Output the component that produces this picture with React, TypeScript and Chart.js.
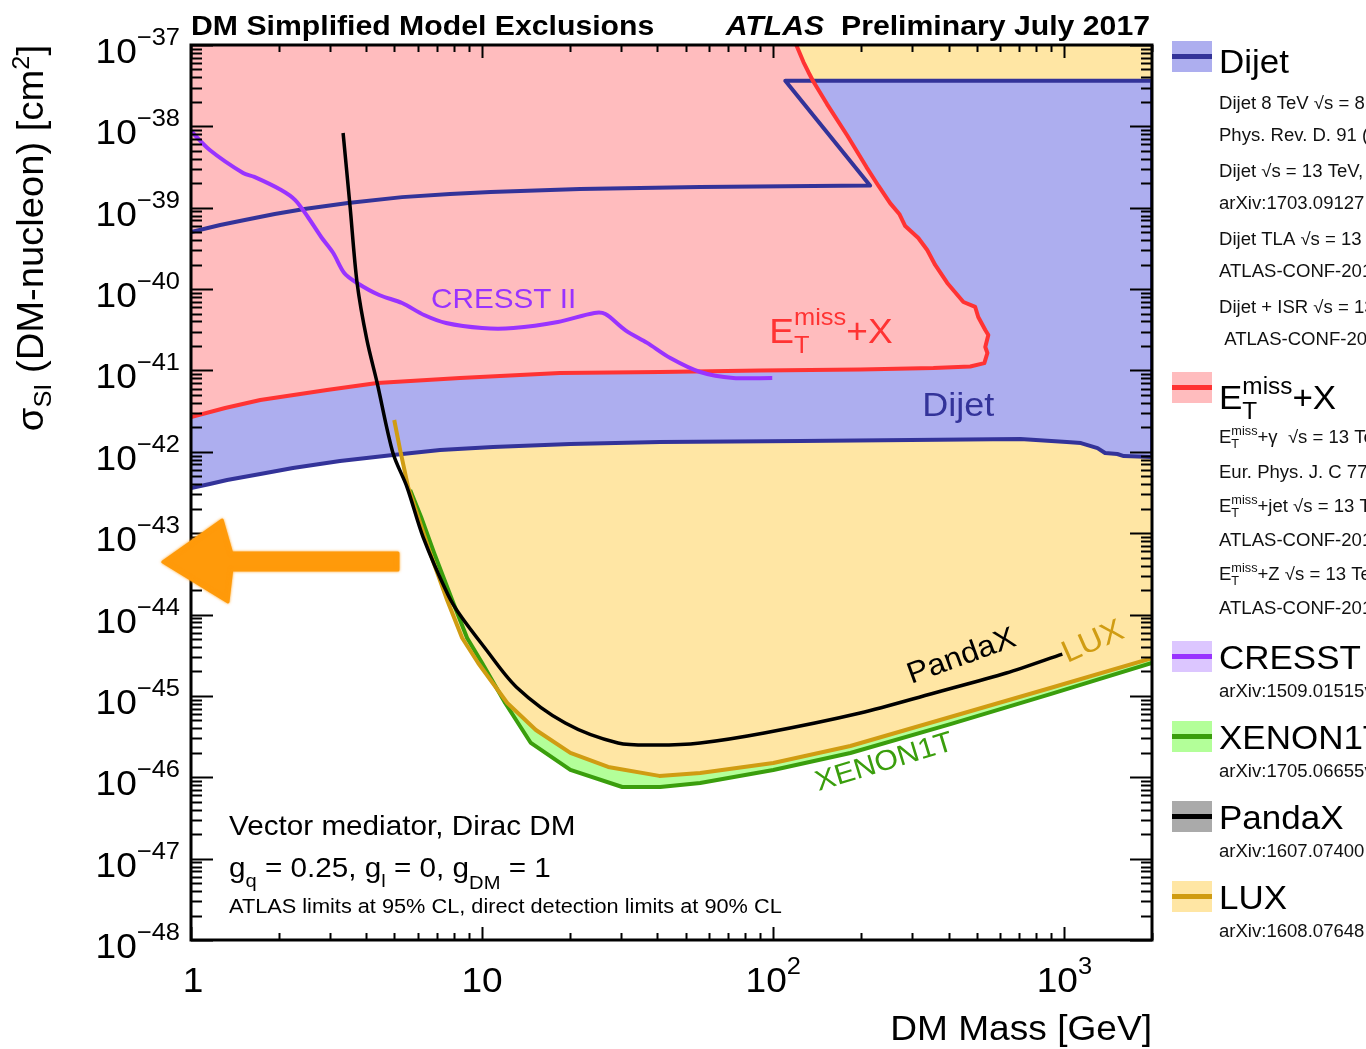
import React, { useEffect, useRef } from 'react';
import { Chart, registerables } from 'chart.js';

Chart.register(...registerables);

const FONT = "'Liberation Sans', Arial, Helvetica, sans-serif";
const HS = 1.06; // slight horizontal stretch of all glyphs (ROOT-like lettering)

// axis ranges
const MASS_MIN = 1;
const MASS_MAX = 2000;
const XSEC_MIN = 1e-48;
const XSEC_MAX = 1e-37;

const massTicks = [1, 10, 100, 1000];
const xsecDecades = [-48, -47, -46, -45, -44, -43, -42, -41, -40, -39, -38, -37];

// Dijet exclusion: lower edge, left to right
const dijetLowMass = [1, 1.16, 1.33, 1.73, 2.24, 3.25, 4.94, 7.17, 10.9, 20.1, 40.9, 124, 706, 1020, 1140, 1300, 1380, 1520, 1600, 2000];
const dijetLowXsec = [3.59e-43, 4.02e-43, 4.5e-43, 5.33e-43, 6.32e-43, 7.71e-43, 9.14e-43, 1.05e-42, 1.15e-42, 1.25e-42, 1.32e-42, 1.36e-42, 1.44e-42, 1.32e-42, 1.28e-42, 1.11e-42, 9.66e-43, 9.4e-43, 8.87e-43, 8.63e-43];
// Dijet exclusion: upper edge, traced from the right back to the left
const dijetHighMass = [2000, 110, 215, 56.1, 21.7, 10.7, 7.76, 5.31, 3.46, 2.45, 1.94, 1.53, 1.26, 1];
const dijetHighXsec = [3.64e-38, 3.64e-38, 1.87e-39, 1.8e-39, 1.7e-39, 1.56e-39, 1.47e-39, 1.35e-39, 1.14e-39, 9.64e-40, 8.37e-40, 7.06e-40, 6.13e-40, 5.04e-40];

// E_T^miss + X contour
const metMass = [1, 1.31, 1.73, 2.93, 4.36, 8.4, 18.5, 40.9, 90.2, 199, 355, 475, 531, 544, 535, 548, 535, 506, 494, 450, 396, 360, 338, 315, 284, 271, 252, 230, 209, 180, 153, 137, 132, 127, 120];
const metXsec = [2.68e-42, 3.45e-42, 4.34e-42, 5.75e-42, 7.02e-42, 8.08e-42, 9.31e-42, 9.57e-42, 9.98e-42, 1.03e-41, 1.07e-41, 1.12e-41, 1.23e-41, 1.64e-41, 1.94e-41, 2.73e-41, 3.14e-41, 4.54e-41, 6.03e-41, 6.94e-41, 1.19e-40, 1.98e-40, 3.02e-40, 4.25e-40, 5.96e-40, 8.38e-40, 1.14e-39, 1.85e-39, 3.16e-39, 7.61e-39, 1.88e-38, 3.61e-38, 4.66e-38, 6.18e-38, 1e-37];

// CRESST II limit
const cresstMass = [1, 1.16, 1.51, 1.65, 2.04, 2.28, 2.52, 2.8, 3.08, 3.36, 3.72, 4.43, 5.31, 6.32, 7.52, 10, 12.8, 18.2, 24.3, 26.5, 31, 36.9, 44.3, 56.1, 72.9, 99.2];
const cresstXsec = [8.77e-39, 5.12e-39, 2.67e-39, 2.39e-39, 1.65e-39, 1.24e-39, 7.69e-40, 4.37e-40, 2.78e-40, 1.58e-40, 1.19e-40, 8.46e-41, 6.74e-41, 4.8e-41, 3.83e-41, 3.32e-41, 3.32e-41, 3.94e-41, 5.08e-41, 4.94e-41, 3.14e-41, 2.18e-41, 1.42e-41, 9.57e-42, 8.08e-42, 8.08e-42];

// PandaX limit
const pandaxMass = [3.33, 3.52, 3.72, 4.02, 4.36, 4.94, 5.52, 6.27, 7.64, 8.4, 10.16, 13.1, 19.3, 29.3, 39.9, 56.1, 93.1, 199, 355, 632, 984];
const pandaxXsec = [8.29e-39, 1.02e-39, 1.19e-40, 2.37e-41, 7.01e-42, 9.67e-43, 3.69e-43, 8.97e-44, 1.74e-44, 9.86e-45, 3.99e-45, 1.29e-45, 4.64e-46, 2.64e-46, 2.49e-46, 2.64e-46, 3.5e-46, 6.16e-46, 1.08e-45, 1.91e-45, 3.27e-45];

// LUX limit
const luxMass = [4.99, 5.23, 5.57, 6.03, 6.63, 7.58, 8.54, 9.69, 12.2, 15.3, 20.1, 27.1, 40.6, 56.1, 100, 184, 406, 895, 2000];
const luxXsec = [2.46e-42, 1.05e-42, 3.69e-43, 1.58e-43, 5.7e-44, 1.51e-44, 5.15e-45, 2.54e-45, 8.18e-46, 3.81e-46, 1.99e-46, 1.34e-46, 1.04e-46, 1.13e-46, 1.5e-46, 2.42e-46, 5.5e-46, 1.25e-45, 2.92e-45];

// XENON1T limit
const xenonMass = [5.66, 6.17, 6.84, 7.89, 8.88, 10, 12, 14.7, 20.1, 30.3, 40.9, 56.1, 100, 184, 406, 895, 2000];
const xenonXsec = [3.39e-43, 1.58e-43, 5.7e-44, 1.51e-44, 5.15e-45, 2.54e-45, 8.18e-46, 2.64e-46, 1.23e-46, 7.59e-47, 7.59e-47, 8.49e-47, 1.23e-46, 1.99e-46, 4.51e-46, 1.05e-45, 2.54e-45];

// hand-drawn arrow pointing to the low-mass region
const arrowMass = [0.8, 1.28, 1.38, 5.14, 5.14, 1.38, 1.34];
const arrowXsec = [4.42e-44, 1.45e-43, 5.7e-44, 5.7e-44, 3.52e-44, 3.52e-44, 1.43e-44];

// legend texts
const dijetRefs = [
  'Dijet 8 TeV √s = 8 TeV, 20.3 fb⁻¹',
  'Phys. Rev. D. 91 (2015) 052007',
  'Dijet √s = 13 TeV, 37.0 fb⁻¹',
  'arXiv:1703.09127',
  'Dijet TLA √s = 13 TeV, 3.4 fb⁻¹',
  'ATLAS-CONF-2016-030',
  'Dijet + ISR √s = 13 TeV, 15.5 fb⁻¹',
  ' ATLAS-CONF-2016-070',
];
const metChannels = ['+γ  √s = 13 TeV, 36.1 fb⁻¹', '+jet √s = 13 TeV, 36.1 fb⁻¹', '+Z √s = 13 TeV, 36.1 fb⁻¹'];
const metRefs = ['Eur. Phys. J. C 77 (2017) 393', 'ATLAS-CONF-2017-060', 'ATLAS-CONF-2017-040'];

const DIJET_LINE = '#333399';
const DIJET_FILL = '#adaeef';
const MET_LINE = '#ff3333';
const MET_FILL = '#ffbcbe';
const CRESST_LINE = '#9933ff';
const CRESST_FILL = '#dcc6ff';
const XENON_LINE = '#3a9e0c';
const XENON_FILL = '#b3ff99';
const PANDAX_LINE = '#000000';
const PANDAX_FILL = '#aaaaaa';
const LUX_LINE = '#d09c12';
const LUX_FILL = '#ffe6a4';
const ARROW = '#ff9a0a';

type Pt = { x: number; y: number };
const pts = (ms: number[], ss: number[]): Pt[] => ms.map((m, i) => ({ x: m, y: ss[i] }));

type Run = { t: string; size: number; dy?: number; weight?: string; style?: string; color?: string; stack?: boolean };

const fontOf = (r: Run) => `${r.style || 'normal'} ${r.weight || 'normal'} ${r.size}px ${FONT}`;

function layoutRuns(ctx: CanvasRenderingContext2D, runs: Run[]) {
  let cur = 0;
  let prevStart = 0;
  const starts: number[] = [];
  for (const r of runs) {
    ctx.font = fontOf(r);
    const w = ctx.measureText(r.t).width;
    const start = r.stack ? prevStart : cur;
    starts.push(start);
    prevStart = start;
    cur = Math.max(cur, start + w);
  }
  return { starts, width: cur };
}

function drawRuns(ctx: CanvasRenderingContext2D, runs: Run[], x: number, y: number, color: string, align: 'left' | 'right' | 'center' = 'left') {
  const { starts, width } = layoutRuns(ctx, runs);
  const w = width * HS;
  const x0 = align === 'left' ? x : align === 'right' ? x - w : x - w / 2;
  ctx.save();
  ctx.translate(x0, y);
  ctx.scale(HS, 1);
  ctx.textAlign = 'left';
  ctx.textBaseline = 'alphabetic';
  runs.forEach((r, i) => {
    ctx.font = fontOf(r);
    ctx.fillStyle = r.color || color;
    ctx.fillText(r.t, starts[i], r.dy || 0);
  });
  ctx.restore();
}

function seg(ctx: CanvasRenderingContext2D, x1: number, y1: number, x2: number, y2: number) {
  ctx.beginPath();
  ctx.moveTo(x1, y1);
  ctx.lineTo(x2, y2);
  ctx.stroke();
}

const decorPlugin = {
  id: 'exclusionDecor',
  afterDatasetsDraw(chart: any) {
    const ctx: CanvasRenderingContext2D = chart.ctx;
    const { left, right, top, bottom } = chart.chartArea;
    const X = (m: number) => chart.scales.x.getPixelForValue(m);
    const Y = (s: number) => chart.scales.y.getPixelForValue(s);
    ctx.save();

    // curve labels inside the frame
    drawRuns(ctx, [{ t: 'CRESST II', size: 28 }], X(6.68), Y(5.85e-41), CRESST_LINE);
    drawRuns(ctx, [
      { t: 'E', size: 35 },
      { t: 'T', size: 24, dy: 10 },
      { t: 'miss', size: 24, dy: -18, stack: true },
      { t: '+X', size: 35 },
    ], X(96.9), Y(2.17e-41), MET_LINE);
    drawRuns(ctx, [{ t: 'Dijet', size: 34 }], X(325), Y(2.75e-42), DIJET_LINE);

    const rotated = (text: string, size: number, m: number, s: number, deg: number, color: string) => {
      ctx.save();
      ctx.translate(X(m), Y(s));
      ctx.rotate((deg * Math.PI) / 180);
      drawRuns(ctx, [{ t: text, size }], 0, 0, color);
      ctx.restore();
    };
    rotated('PandaX', 30, 298, 1.4e-45, -20, '#000');
    rotated('LUX', 31, 1024, 2.54e-45, -24, LUX_LINE);
    rotated('XENON1T', 28.5, 143, 6.78e-47, -17, XENON_LINE);

    // model description
    drawRuns(ctx, [{ t: 'Vector mediator, Dirac DM', size: 28 }], left + 38, bottom - 105, '#000');
    drawRuns(ctx, [
      { t: 'g', size: 28 },
      { t: 'q', size: 19, dy: 10 },
      { t: ' = 0.25, g', size: 28 },
      { t: 'l', size: 19, dy: 10 },
      { t: ' = 0, g', size: 28 },
      { t: 'DM', size: 19, dy: 12 },
      { t: ' = 1', size: 28 },
    ], left + 38, bottom - 63, '#000');
    drawRuns(ctx, [{ t: 'ATLAS limits at 95% CL, direct detection limits at 90% CL', size: 20.5 }], left + 38, bottom - 27, '#000');

    // frame ticks
    ctx.strokeStyle = '#000';
    ctx.lineWidth = 2;
    for (let d = 0; d <= 3; d++) {
      for (let k = 1; k <= 9; k++) {
        const v = Number(`${k}e${d}`);
        if (v > MASS_MAX) break;
        const px = Math.round(X(v)) + 0.5;
        const len = k === 1 ? 13 : 7;
        seg(ctx, px, bottom, px, bottom - len);
        seg(ctx, px, top, px, top + len);
      }
    }
    for (const e of xsecDecades) {
      for (let k = 1; k <= 9; k++) {
        const v = Number(`${k}e${e}`);
        if (v > XSEC_MAX * 1.0001) break;
        const py = Math.round(Y(v)) + 0.5;
        const len = k === 1 ? 22 : 11;
        seg(ctx, left, py, left + len, py);
        seg(ctx, right, py, right - len, py);
      }
    }
    ctx.lineWidth = 3;
    ctx.strokeRect(left, top, right - left, bottom - top);
    ctx.restore();
  },
  afterDraw(chart: any) {
    const ctx: CanvasRenderingContext2D = chart.ctx;
    const { left, right, top, bottom } = chart.chartArea;
    const X = (m: number) => chart.scales.x.getPixelForValue(m);
    const Y = (s: number) => chart.scales.y.getPixelForValue(s);
    ctx.save();

    // tick labels
    for (const e of xsecDecades) {
      const py = Y(Number(`1e${e}`));
      drawRuns(ctx, [{ t: '10', size: 35 }, { t: `−${-e}`, size: 24, dy: -18 }], left - 11, py + 18, '#000', 'right');
    }
    for (const v of massTicks) {
      const runs: Run[] = v < 100 ? [{ t: String(v), size: 35 }] : [{ t: '10', size: 35 }, { t: String(Math.round(Math.log10(v))), size: 24, dy: -18 }];
      drawRuns(ctx, runs, X(v) + (v === 1 ? 2 : 0), bottom + 52, '#000', 'center');
    }

    // axis titles
    drawRuns(ctx, [{ t: 'DM Mass [GeV]', size: 35 }], right, bottom + 100, '#000', 'right');
    ctx.save();
    ctx.translate(43, top);
    ctx.rotate(-Math.PI / 2);
    drawRuns(ctx, [
      { t: 'σ', size: 36 },
      { t: 'SI', size: 24, dy: 8 },
      { t: ' (DM-nucleon) [cm', size: 36 },
      { t: '2', size: 24, dy: -14 },
      { t: ']', size: 36 },
    ], 0, 0, '#000', 'right');
    ctx.restore();

    // header
    drawRuns(ctx, [{ t: 'DM Simplified Model Exclusions', size: 28.5, weight: 'bold' }], left, 35, '#000');
    drawRuns(ctx, [
      { t: 'ATLAS', size: 28.5, weight: 'bold', style: 'italic' },
      { t: '  Preliminary July 2017', size: 28.5, weight: 'bold' },
    ], right - 2, 35, '#000', 'right');

    // legend
    const bx = right + 20;
    const tx = right + 67;
    const box = (y0: number, fill: string, stroke: string) => {
      ctx.fillStyle = fill;
      ctx.fillRect(bx, y0, 40, 31);
      ctx.strokeStyle = stroke;
      ctx.lineWidth = 5;
      seg(ctx, bx, y0 + 15.5, bx + 40, y0 + 15.5);
    };
    const sub = (t: string, y: number) => drawRuns(ctx, [{ t, size: 17.5 }], tx, y, '#111');
    const metSub = (t: string, y: number) => drawRuns(ctx, [
      { t: 'E', size: 17.5 },
      { t: 'T', size: 12, dy: 5 },
      { t: 'miss', size: 12, dy: -8, stack: true },
      { t, size: 17.5 },
    ], tx, y, '#111');

    box(41, DIJET_FILL, DIJET_LINE);
    drawRuns(ctx, [{ t: 'Dijet', size: 33 }], tx, 73, '#000');
    dijetRefs.forEach((t, i) => sub(t, 109 + Math.floor(i / 2) * 68 + (i % 2) * 32));

    box(372, MET_FILL, MET_LINE);
    drawRuns(ctx, [
      { t: 'E', size: 33 },
      { t: 'T', size: 23, dy: 10 },
      { t: 'miss', size: 23, dy: -15, stack: true },
      { t: '+X', size: 33 },
    ], tx, 409, '#000');
    metChannels.forEach((t, i) => metSub(t, 443 + i * 68.5));
    metRefs.forEach((t, i) => sub(t, 478 + i * 68));

    const simple = [
      { y0: 641, fill: CRESST_FILL, line: CRESST_LINE, title: 'CRESST II', ref: 'arXiv:1509.01515v3' },
      { y0: 721, fill: XENON_FILL, line: XENON_LINE, title: 'XENON1T', ref: 'arXiv:1705.06655v1' },
      { y0: 801, fill: PANDAX_FILL, line: PANDAX_LINE, title: 'PandaX', ref: 'arXiv:1607.07400' },
      { y0: 881, fill: LUX_FILL, line: LUX_LINE, title: 'LUX', ref: 'arXiv:1608.07648; 1512.03506' },
    ];
    for (const e of simple) {
      box(e.y0, e.fill, e.line);
      drawRuns(ctx, [{ t: e.title, size: 33 }], tx, e.y0 + 28, '#000');
      sub(e.ref, e.y0 + 56);
    }

    // arrow
    ctx.fillStyle = ARROW;
    ctx.strokeStyle = ARROW;
    ctx.lineWidth = 3;
    ctx.lineJoin = 'round';
    ctx.shadowColor = 'rgba(255,154,10,0.8)';
    ctx.shadowBlur = 3;
    ctx.beginPath();
    arrowMass.forEach((m, i) => {
      const px = X(m);
      const py = Y(arrowXsec[i]);
      if (i === 0) ctx.moveTo(px, py);
      else ctx.lineTo(px, py);
    });
    ctx.closePath();
    ctx.fill();
    ctx.stroke();
    ctx.restore();
  },
};

export default function App() {
  const ref = useRef<HTMLCanvasElement | null>(null);
  useEffect(() => {
    if (!ref.current) return;
    const area = (label: string, data: Pt[], color: string, order: number) => ({
      label, data, order, fill: 'shape', backgroundColor: color, borderWidth: 0, borderColor: 'rgba(0,0,0,0)', pointRadius: 0, tension: 0,
    });
    const curve = (label: string, data: Pt[], color: string, width: number, order: number, tension = 0) => ({
      label, data, order, fill: false, borderColor: color, borderWidth: width, pointRadius: 0, tension, borderJoinStyle: 'round', borderCapStyle: 'butt',
    });
    const dijetContour = [...pts(dijetLowMass, dijetLowXsec), ...pts(dijetHighMass, dijetHighXsec)];
    const chart = new Chart(ref.current, {
      type: 'line',
      data: {
        datasets: [
          curve('PandaX', pts(pandaxMass, pandaxXsec), PANDAX_LINE, 3.5, 1, 0.3),
          curve('LUX', pts(luxMass, luxXsec), LUX_LINE, 4, 2),
          curve('XENON1T', pts(xenonMass, xenonXsec), XENON_LINE, 4, 3),
          curve('CRESST II', pts(cresstMass, cresstXsec), CRESST_LINE, 4, 4, 0.3),
          curve('MET+X', pts(metMass, metXsec), MET_LINE, 4, 5),
          curve('Dijet', dijetContour, DIJET_LINE, 4, 6),
          area('MET+X area', [...pts(metMass, metXsec), { x: MASS_MIN, y: XSEC_MAX }], MET_FILL, 10),
          area('Dijet area', dijetContour, DIJET_FILL, 11),
          area('LUX area', [...pts(luxMass, luxXsec), { x: MASS_MAX, y: XSEC_MAX }, { x: luxMass[0], y: XSEC_MAX }], LUX_FILL, 12),
          area('XENON1T area', [...pts(xenonMass, xenonXsec), { x: MASS_MAX, y: XSEC_MAX }, { x: xenonMass[0], y: XSEC_MAX }], XENON_FILL, 13),
        ] as any,
      },
      options: {
        responsive: false,
        animation: false,
        devicePixelRatio: 1,
        layout: { padding: { left: 191, right: 214, top: 45, bottom: 109 } },
        scales: {
          x: { type: 'logarithmic', min: MASS_MIN, max: MASS_MAX, display: false },
          y: { type: 'logarithmic', min: XSEC_MIN, max: XSEC_MAX, display: false },
        },
        plugins: { legend: { display: false }, tooltip: { enabled: false } },
        elements: { point: { radius: 0 } },
      } as any,
      plugins: [decorPlugin],
    });
    return () => chart.destroy();
  }, []);
  return (
    <div style={{ position: 'fixed', left: 0, top: 0, width: 1366, height: 1049, background: '#fff', overflow: 'hidden' }}>
      <canvas ref={ref} width={1366} height={1049} style={{ display: 'block' }} />
    </div>
  );
}
